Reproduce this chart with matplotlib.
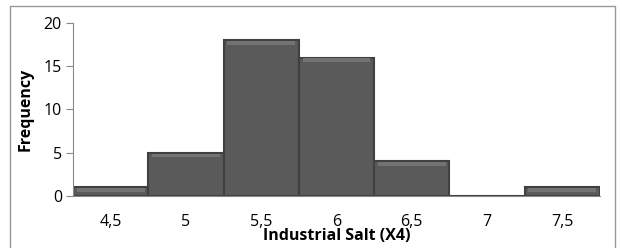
import numpy as np
import matplotlib.pyplot as plt
from matplotlib.patches import Rectangle

categories = ['4,5', '5', '5,5', '6', '6,5', '7', '7,5']
frequency = [1, 5, 18, 16, 4, 0, 1]

plt.rcParams['font.family'] = ['Open Sans', 'DejaVu Sans']

fig = plt.figure(figsize=(6.22, 2.48), dpi=100)
ax = fig.add_axes([0.1174, 0.21, 0.8472, 0.697])

x = np.arange(len(categories))
ax.bar(x, frequency, width=1.0, color='#5a5a5a', edgecolor='#404040', linewidth=1.5, zorder=2)
# lighter bevel at top of each bar
for xi, v in zip(x, frequency):
    if v > 0:
        h = min(0.45, v * 0.45)
        ax.bar(xi, h, bottom=v - h - 0.1, width=0.9,
               color='#737373', linewidth=0, zorder=3)

ax.set_xlim(-0.5, len(categories) - 0.5)
ax.set_ylim(0, 20)
ax.set_yticks([0, 5, 10, 15, 20])
ax.set_xticks(x)
ax.set_xticklabels(categories)
ax.tick_params(axis='x', length=0, pad=13, labelsize=11.5)
ax.tick_params(axis='y', length=5, color='#888888', labelsize=11.5, pad=3)

for s in ['top', 'right']:
    ax.spines[s].set_visible(False)
for s in ['left', 'bottom']:
    ax.spines[s].set_color('#888888')

ax.set_xlabel('Industrial Salt (X4)', fontweight='bold', fontsize=11.5)
ax.set_ylabel('Frequency', fontweight='bold', fontsize=11.5)
ax.xaxis.set_label_coords(0.5, -0.185)
ax.yaxis.set_label_coords(-0.074, 0.5)

fig.patches.append(Rectangle((10 / 622, -0.1), 605 / 622, 1.1 - 6 / 248,
                             transform=fig.transFigure, fill=False,
                             edgecolor='#999999', linewidth=1))

fig.savefig('out.png', dpi=100)
